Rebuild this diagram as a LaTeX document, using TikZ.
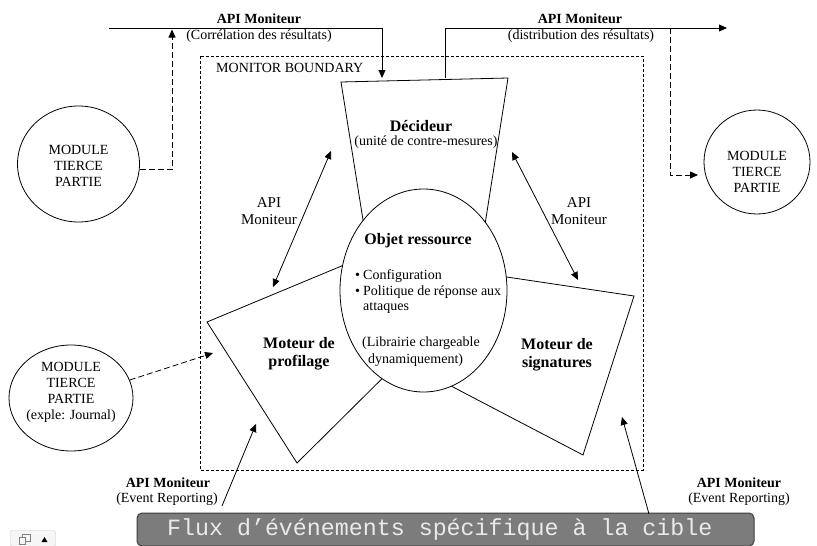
\documentclass[tikz,border=0pt]{standalone}
\usepackage{fontspec}
\setmainfont{Liberation Serif}
\setmonofont{Liberation Mono}
\usetikzlibrary{arrows.meta,shapes.geometric}
\definecolor{bargray}{HTML}{7C7C7C}
\definecolor{barline}{HTML}{3C3C3C}
\definecolor{bartext}{HTML}{EAEAEA}
\definecolor{btnline}{HTML}{C8C8C8}
\definecolor{btnfill}{HTML}{F6F6F6}
\tikzset{
  lw/.style={line width=0.8pt},
  tip/.style={-{Triangle[length=8pt,width=7pt]}},
  dtip/.style={{Triangle[length=8pt,width=7pt]}-{Triangle[length=8pt,width=7pt]}},
  tpdash/.style={lw,dash pattern=on 6pt off 3pt},
  bounddash/.style={lw,dash pattern=on 3pt off 2pt},
  reg/.style={inner sep=0pt,font=\fontsize{14}{16}\selectfont},
  regc/.style={reg,align=center},
  apib/.style={inner sep=0pt,font=\fontsize{14}{16}\selectfont\bfseries},
  ttl/.style={inner sep=0pt,align=center,font=\fontsize{16}{18}\selectfont\bfseries},
  third/.style={draw,lw,ellipse,inner sep=0pt},
}
\begin{document}
\begin{tikzpicture}[x=1pt,y=-1pt]
\useasboundingbox (0,0) rectangle (817,546);

% monitor boundary
\draw[bounddash] (200,56) rectangle (643,470);
\node[reg,anchor=west] (mb) at (216,68) {MONITOR BOUNDARY};

% third party modules
\node[third,minimum width=122pt,minimum height=116pt] (m1) at (78.5,164) {};
\node[regc] (m1t) at (78.5,166) {MODULE\\TIERCE\\PARTIE};
\node[third,minimum width=106pt,minimum height=104pt] (m2) at (757,162) {};
\node[regc] (m2t) at (757,172) {MODULE\\TIERCE\\PARTIE};
\node[third,minimum width=124pt,minimum height=106pt] (m3) at (71,398) {};
\node[regc] (m3t) at (71,392) {MODULE\\TIERCE\\PARTIE\\(exple: Journal)};

% shapes
\draw[lw] (341,82) -- (508,78) -- (481,250) -- (367,245) -- cycle;
\draw[lw] (207,322) -- (297,463) -- (415,346) -- (380,250) -- cycle;
\draw[lw] (634,296) -- (583,455) -- (430,375) -- (480,273) -- cycle;
\node[draw,lw,ellipse,fill=white,inner sep=0pt,minimum width=167pt,minimum height=203pt] (obj) at (423.5,290.5) {};

% texts in shapes
\node[ttl] (dect) at (421,126) {Décideur};
\node[reg] (decs) at (426,142) {(unité de contre-mesures)};
\node[ttl] (objt) at (418,241) {Objet ressource};
\node[reg,anchor=west] (b1) at (355,276) {\makebox[8pt][l]{•}Configuration};
\node[reg,anchor=west] (b2) at (355,292) {\makebox[8pt][l]{•}Politique de réponse aux};
\node[reg,anchor=west] (b3) at (363,308) {attaques};
\node[reg,anchor=west] (lib1) at (362,343) {(Librairie chargeable};
\node[reg,anchor=west] (lib2) at (368,360) {dynamiquement)};
\node[ttl] (prof) at (299,354) {Moteur de\\profilage};
\node[ttl] (sig) at (557,355) {Moteur de\\signatures};

% top connectors
\coordinate (tl) at (109,28);
\coordinate (tlend) at (382,78);
\draw[lw,tip] (tl) -| (tlend);
\node[apib] (api1) at (259,19) {API Moniteur};
\node[reg] (api1s) at (259,36) {(Corrélation des résultats)};
\coordinate (up1) at (172,29.5);
\draw[tpdash,tip] (m1.-5) -| (up1);

\coordinate (trs) at (445,77.5);
\coordinate (tre) at (727,28);
\draw[lw,tip] (trs) |- (tre);
\node[apib] (api2) at (580,19) {API Moniteur};
\node[reg] (api2s) at (581,36) {(distribution des résultats)};
\coordinate (dtop) at (670,28);
\coordinate (dend) at (698,175);
\draw[tpdash,tip] (dtop) |- (dend);

\coordinate (m3tip) at (213,353);
\draw[tpdash,tip] (m3.17) -- (m3tip);

% middle API arrows
\coordinate (la) at (273,287);
\coordinate (lb) at (331,151);
\draw[lw,dtip] (la) -- (lb);
\node[regc,font=\fontsize{15}{17}\selectfont] (apil) at (269,211) {API\\Moniteur};
\coordinate (ra) at (512,152);
\coordinate (rb) at (578,280);
\draw[lw,dtip] (ra) -- (rb);
\node[regc,font=\fontsize{15}{17}\selectfont] (apir) at (579,211) {API\\Moniteur};

% bottom bar
\node[draw=barline,fill=bargray,line width=1pt,rounded corners=5pt,minimum width=617pt,minimum height=33pt,inner sep=0pt] (bar) at (445.5,529.5) {};
\node[inner sep=0pt,text=bartext,font=\ttfamily\fontsize{23.3}{24}\selectfont] (bart) at (439.8,529.8) {Flux d’événements spécifique à la cible};

% bottom arrows
\coordinate (bls) at (222,506);
\coordinate (ble) at (256,424);
\draw[lw,tip] (bls) -- (ble);
\node[apib] (api3) at (168,483) {API Moniteur};
\node[reg] (api3s) at (167,499) {(Event Reporting)};
\coordinate (brs) at (649,514);
\coordinate (bre) at (622,417);
\draw[lw,tip] (brs) -- (bre);
\node[apib] (api4) at (739,483) {API Moniteur};
\node[reg] (api4s) at (739,499) {(Event Reporting)};

% small button
\node[draw=btnline,fill=btnfill,rounded corners=2pt,minimum width=45pt,minimum height=16pt,inner sep=0pt] (btn) at (33,538.5) {};
\draw[gray,line width=0.6pt] (22,534) rectangle (30,541);
\draw[gray,fill=btnfill,line width=0.6pt] (19,537) rectangle (25,544);
\fill[black] (41.5,542) -- (44.5,537) -- (47.5,542) -- cycle;
\end{tikzpicture}
\end{document}
